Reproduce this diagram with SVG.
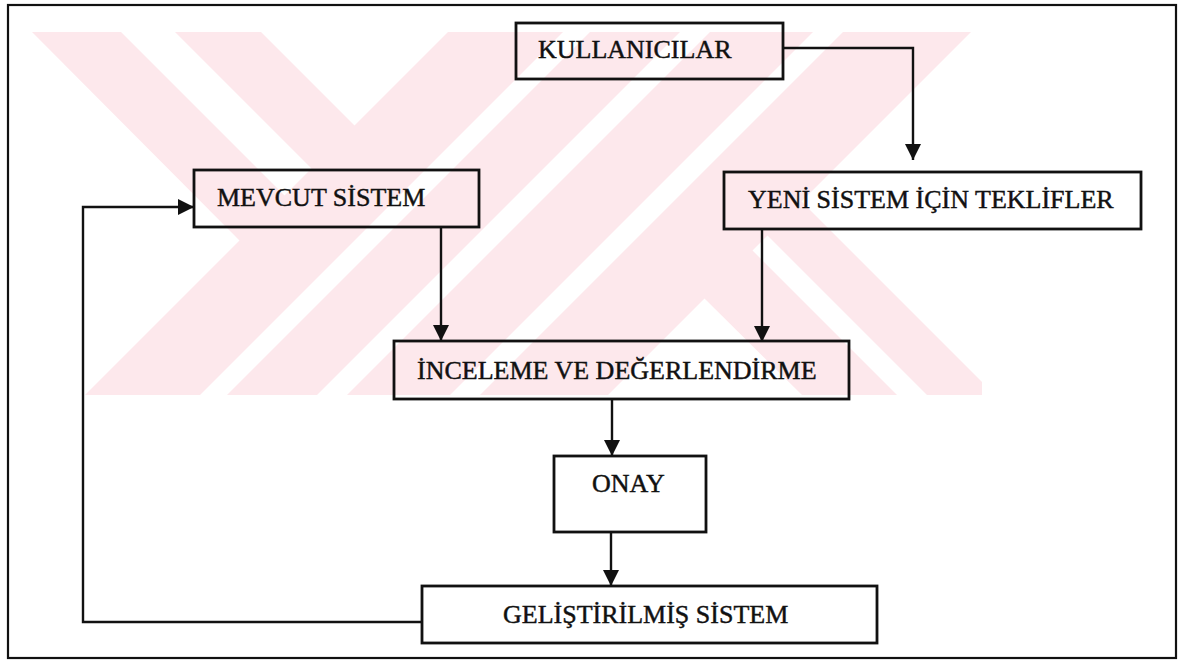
<svg xmlns="http://www.w3.org/2000/svg" width="1184" height="663" viewBox="0 0 1184 663">
  <defs>
    <style>
      .box { fill: none; stroke: #111; stroke-width: 2.8; }
      .lbl { font-family: "Liberation Serif", "Times New Roman", serif; font-size: 26px; fill: #111; stroke: #111; stroke-width: 0.45; }
      .wire { fill: none; stroke: #111; stroke-width: 2.4; }
      .arrow { marker-end: url(#head); }
      .mark { fill: #fde8ec; }
    </style>
    <marker id="head" markerUnits="userSpaceOnUse" markerWidth="17" markerHeight="16" refX="16" refY="8" orient="auto">
      <path d="M0,0 L16,8 L0,16 Z" fill="#111"/>
    </marker>
    <clipPath id="markClip">
      <rect x="30" y="32" width="952" height="363"/>
    </clipPath>
  </defs>

  <rect width="1184" height="663" fill="#fff"/>

  <!-- pale striped emblem behind the chart -->
  <g id="emblem" clip-path="url(#markClip)">
    <!-- upper-left arm, two bands -->
    <polygon class="mark" points="32,32 121,32 287,198 242,243"/>
    <polygon class="mark" points="175,32 261,32 357,128 314,171"/>
    <!-- long rising stroke, split by thin gaps -->
    <polygon class="mark" points="448,32 563,32 200,395 85,395"/>
    <polygon class="mark" points="590,32 680,32 317,395 227,395"/>
    <polygon class="mark" points="710,32 813,32 450,395 347,395"/>
    <polygon class="mark" points="843,32 971,32 608,395 480,395"/>
    <!-- lower-right arm, split by one gap -->
    <polygon class="mark" points="703,297 751,249 897,395 802,395"/>
    <polygon class="mark" points="766,234 800,200 995,395 927,395"/>
  </g>

  <!-- outer frame -->
  <rect id="frame" x="8" y="5" width="1168" height="653" fill="none" stroke="#111" stroke-width="2.2"/>

  <g id="connectors">
    <path class="wire arrow" d="M783,48 H913 V160"/>
    <path class="wire arrow" d="M441,227 V341"/>
    <path class="wire arrow" d="M762,229 V342"/>
    <path class="wire arrow" d="M612,399 V456"/>
    <path class="wire arrow" d="M611,532 V586"/>
    <path class="wire arrow" d="M422,622 H83 V207 H194"/>
  </g>

  <g id="kullanicilar">
    <rect class="box" x="516" y="23" width="267" height="56"/>
    <text class="lbl" x="538" y="58">KULLANICILAR</text>
  </g>

  <g id="mevcut-sistem">
    <rect class="box" x="194" y="170" width="285" height="57"/>
    <text class="lbl" x="217" y="206">MEVCUT SİSTEM</text>
  </g>

  <g id="yeni-sistem">
    <rect class="box" x="724" y="172" width="417" height="57"/>
    <text class="lbl" x="748" y="208">YENİ SİSTEM İÇİN TEKLİFLER</text>
  </g>

  <g id="inceleme">
    <rect class="box" x="394" y="341" width="455" height="58"/>
    <text class="lbl" x="417" y="379">İNCELEME VE DEĞERLENDİRME</text>
  </g>

  <g id="onay">
    <rect class="box" x="554" y="456" width="152" height="76"/>
    <text class="lbl" x="592" y="492">ONAY</text>
  </g>

  <g id="gelistirilmis">
    <rect class="box" x="422" y="586" width="455" height="57"/>
    <text class="lbl" x="503" y="623">GELİŞTİRİLMİŞ SİSTEM</text>
  </g>
</svg>
